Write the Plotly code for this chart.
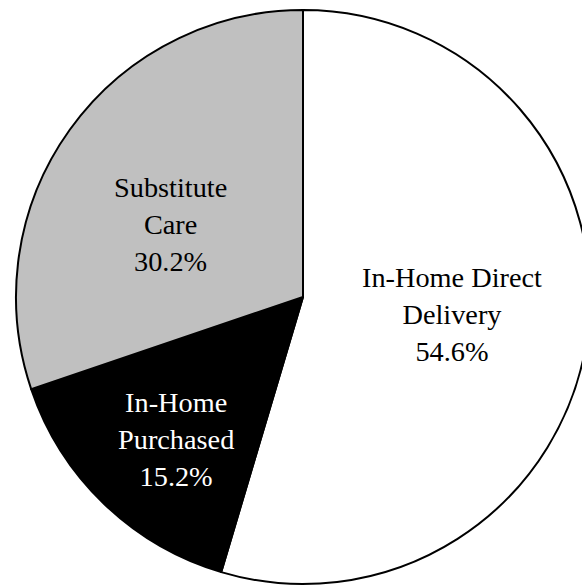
import math
import plotly.graph_objects as go

# Data
categories = ["In-Home Direct Delivery", "In-Home Purchased", "Substitute Care"]
label_lines = [["In-Home Direct", "Delivery"], ["In-Home", "Purchased"], ["Substitute", "Care"]]
values = [54.6, 15.2, 30.2]

# Styles
colors = ["#FFFFFF", "#000000", "#C0C0C0"]
text_colors = ["#000000", "#FFFFFF", "#000000"]
label_radius = [0.523, 0.664, 0.527]     # fraction of radius
label_nudge_deg = [-1.4, -2.1, -7.2]     # angular nudge from slice mid-angle

fig = go.Figure(go.Pie(
    labels=categories,
    values=values,
    sort=False,
    direction="clockwise",
    rotation=0,
    marker=dict(colors=colors, line=dict(color="#000000", width=2)),
    textinfo="none",
    hoverinfo="label+percent",
    showlegend=False,
    domain=dict(x=[0, 1], y=[0, 1]),
))

total = sum(values)
cum = 0.0
annotations = []
for i, v in enumerate(values):
    mid = (cum + v / 2) / total * 360 + label_nudge_deg[i]
    cum += v
    th = math.radians(mid)
    x = 0.5 + 0.5 * label_radius[i] * math.sin(th)
    y = 0.5 + 0.5 * label_radius[i] * math.cos(th)
    txt = "<br>".join(label_lines[i] + [f"{v:.1f}%"])
    annotations.append(dict(
        x=x, y=y, xref="paper", yref="paper", text=txt, showarrow=False,
        xanchor="center", yanchor="middle", align="center",
        font=dict(family="Liberation Serif, Times New Roman, serif", size=28.3, color=text_colors[i]),
    ))

fig.update_layout(
    width=590, height=586, autosize=False,
    margin=dict(l=16, r=0, t=10, b=2, pad=0),
    paper_bgcolor="#FFFFFF",
    plot_bgcolor="#FFFFFF",
    annotations=annotations,
)

fig.write_html(
    "out.html",
    config={"displayModeBar": False},
    post_script="document.body.style.margin='0';document.body.style.overflow='hidden';document.documentElement.style.overflow='hidden';",
)
